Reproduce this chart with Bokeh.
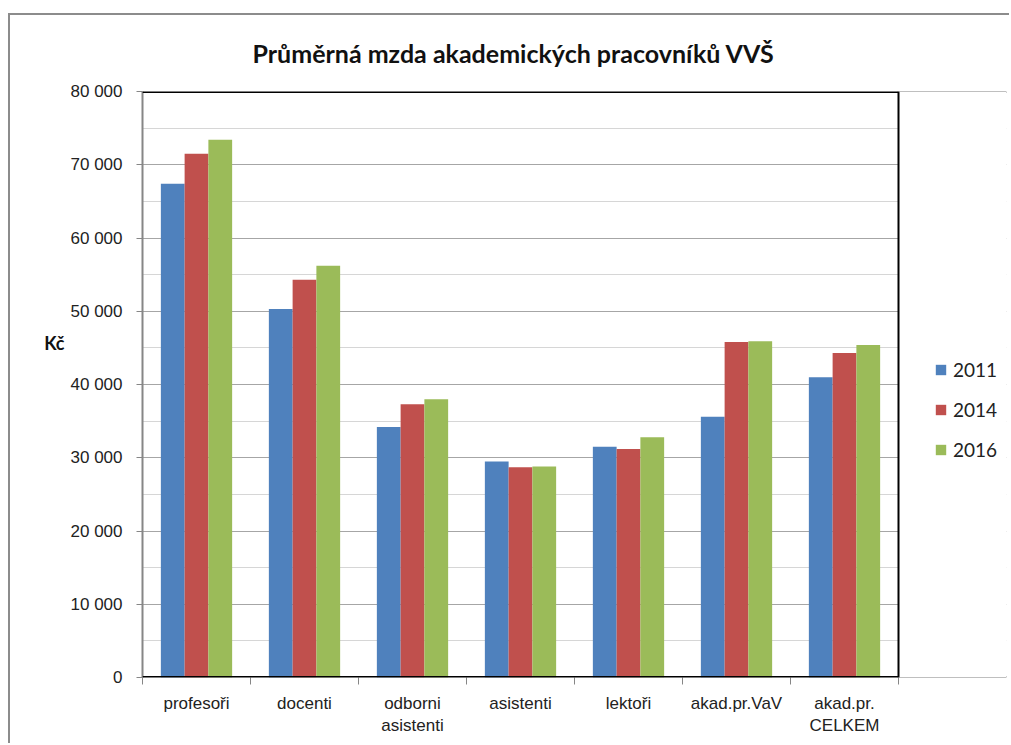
from bokeh.plotting import figure
from bokeh.models import (Range1d, FixedTicker, Legend, LegendItem, LinearAxis,
                          ColumnDataSource, BoxAnnotation, Span)
from bokeh.transform import dodge
from bokeh.embed import file_html
from bokeh.resources import INLINE

# ---- data ----
categories = ["profesoři", "docenti", "odborni\nasistenti", "asistenti",
              "lektoři", "akad.pr.VaV", "akad.pr.\nCELKEM"]
years = ["2011", "2014", "2016"]
v2011 = [67400, 50300, 34200, 29500, 31500, 35600, 41000]
v2014 = [71500, 54300, 37300, 28700, 31200, 45800, 44300]
v2016 = [73400, 56200, 38000, 28800, 32800, 45900, 45400]
y_ticks = [0, 10000, 20000, 30000, 40000, 50000, 60000, 70000, 80000]
y_minor = [5000, 15000, 25000, 35000, 45000, 55000, 65000, 75000]
title_text = "Průměrná mzda akademických pracovníků VVŠ"
y_label = "Kč"
y_label_at = 45700
colors = ["#4F81BD", "#C0504D", "#9BBB59"]

n = len(categories)
y_max = y_ticks[-1]
xpos = [i + 0.5 for i in range(n)]
src = ColumnDataSource(dict(x=xpos, v2011=v2011, v2014=v2014, v2016=v2016))

FONT = "Liberation Sans"

# the frame reaches one extra category slot to the right, which holds the legend
p = figure(width=1001, height=730, output_backend="svg", toolbar_location=None,
           x_range=Range1d(0, n + 1), y_range=Range1d(0, y_max),
           min_border_left=132, min_border_right=5,
           min_border_top=76, min_border_bottom=68)
p.styles = {"margin-left": "8px", "margin-top": "13px",
            "border-left": "2px solid #8c8c8c", "border-top": "2px solid #8c8c8c"}

p.title.text = title_text
p.title.text_font = "Lato"
p.title.text_font_style = "bold"
p.title.text_font_size = "25px"
p.title.align = "left"
p.title.offset = 110
p.title.vertical_align = "top"
p.title.text_color = "#111111"
p.title.standoff = 44

p.outline_line_color = None

# grid
p.xgrid.visible = False
p.ygrid.ticker = FixedTicker(ticks=y_ticks, minor_ticks=y_minor)
p.ygrid.grid_line_color = "#a6a6a6"
p.ygrid.grid_line_width = 1.2
p.ygrid.minor_grid_line_color = "#d6d6d6"
p.ygrid.minor_grid_line_width = 1.2

# y axis
ya = p.yaxis[0]
ya.ticker = FixedTicker(ticks=y_ticks, minor_ticks=[])
ya.major_label_overrides = {t: (f"{t:,}".replace(",", " ") if t else "0") for t in y_ticks}
ya.major_tick_out = 6
ya.major_tick_in = 0
ya.minor_tick_out = 0
ya.minor_tick_in = 0
ya.major_tick_line_color = "#868686"
ya.axis_line_color = "#868686"
ya.axis_line_width = 2
ya.major_label_standoff = 14
ya.major_label_text_font = FONT
ya.major_label_text_font_size = "17px"
ya.major_label_text_color = "#222222"

# "Kč" label as an outer, line-less axis carrying one labelled tick
kc_axis = LinearAxis(ticker=FixedTicker(ticks=[y_label_at], minor_ticks=[]),
                     major_label_overrides={y_label_at: y_label})
kc_axis.axis_line_color = None
kc_axis.major_tick_line_color = None
kc_axis.minor_tick_line_color = None
kc_axis.major_tick_out = 0
kc_axis.major_tick_in = 0
kc_axis.major_label_standoff = 3
kc_axis.major_label_text_font = "Lato"
kc_axis.major_label_text_font_style = "bold"
kc_axis.major_label_text_font_size = "18px"
kc_axis.major_label_text_color = "#111111"
p.add_layout(kc_axis, "left")

# x axis
xa = p.xaxis[0]
xa.ticker = FixedTicker(ticks=xpos, minor_ticks=list(range(n + 1)))
xa.major_label_overrides = {x: c for x, c in zip(xpos, categories)}
xa.major_tick_out = 0
xa.major_tick_in = 0
xa.minor_tick_out = 7
xa.minor_tick_in = 0
xa.minor_tick_line_color = "#868686"
xa.axis_line_color = None
xa.major_label_standoff = 9
xa.major_label_text_font = FONT
xa.major_label_text_font_size = "17px"
xa.major_label_text_color = "#222222"

# bars
bw = 0.22
r1 = p.vbar(x=dodge("x", -bw, range=p.x_range), top="v2011", width=bw, bottom=0,
            source=src, fill_color=colors[0], line_color=None)
r2 = p.vbar(x=dodge("x", 0, range=p.x_range), top="v2014", width=bw, bottom=0,
            source=src, fill_color=colors[1], line_color=None)
r3 = p.vbar(x=dodge("x", bw, range=p.x_range), top="v2016", width=bw, bottom=0,
            source=src, fill_color=colors[2], line_color=None)

# plot-area border (top and bottom), then blank the legend slot, then right border
p.add_layout(Span(location=y_max, dimension="width", line_color="black", line_width=3))
p.add_layout(Span(location=0, dimension="width", line_color="black", line_width=3))
pad = y_max * 0.02
p.add_layout(BoxAnnotation(left=n, top=y_max + pad, bottom=-pad,
                           fill_color="white", fill_alpha=1.0, line_color=None))
p.add_layout(Span(location=n, dimension="height", line_color="black", line_width=2))

legend = Legend(items=[LegendItem(label=years[0], renderers=[r1]),
                       LegendItem(label=years[1], renderers=[r2]),
                       LegendItem(label=years[2], renderers=[r3])],
                location=(792, 216))
legend.border_line_color = None
legend.background_fill_alpha = 0
legend.padding = 0
legend.margin = 0
legend.glyph_width = 13
legend.glyph_height = 13
legend.label_height = 20
legend.spacing = 17
legend.label_standoff = 6
legend.label_text_font = "Lato"
legend.label_text_font_size = "19px"
legend.label_text_color = "#222222"
p.add_layout(legend)

open("out.html", "w").write(file_html(p, INLINE))
